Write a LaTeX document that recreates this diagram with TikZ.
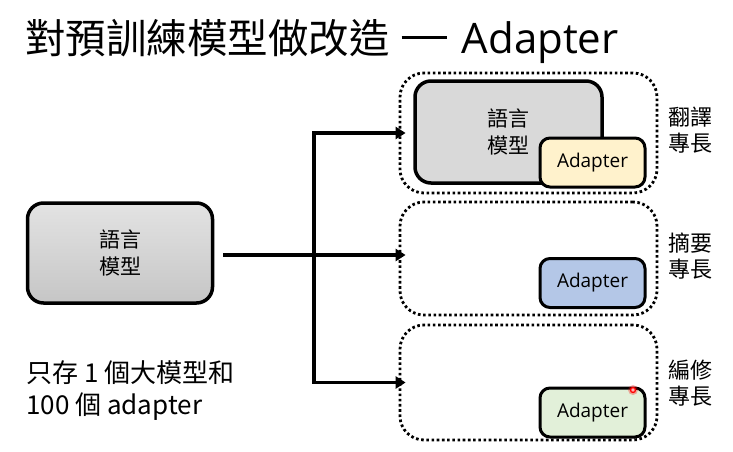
\documentclass[tikz,border=0pt]{standalone}
\usepackage{fontspec}
\setmainfont{Noto Sans CJK TC}
\newfontfamily\latin{Open Sans}
\usetikzlibrary{arrows.meta,positioning}
\definecolor{modelgray}{HTML}{D9D9D9}
\definecolor{adyellow}{HTML}{FFF2CC}
\definecolor{adblue}{HTML}{B4C7E7}
\definecolor{adgreen}{HTML}{E2F0D9}
\tikzset{
  model/.style={draw, line width=3.5pt, rounded corners=16pt, align=center, inner sep=0pt,
    font=\fontsize{21}{27}\selectfont},
  adapterbox/.style={draw, line width=3pt, rounded corners=10pt, inner sep=0pt,
    minimum width=105pt, minimum height=49pt, font=\latin\fontsize{19}{22}\selectfont},
  groupbox/.style={draw, line width=2.8pt, dash pattern=on 2.6pt off 2.6pt,
    rounded corners=24pt, inner sep=0pt, minimum width=257pt},
  skill/.style={align=center, font=\fontsize{22}{26}\selectfont},
  feed/.style={line width=3.2pt, line join=miter, shorten >=-7pt, shorten <=-7pt},
  tip/.tip={Triangle[length=10pt,width=12pt]}
}
\begin{document}
\begin{tikzpicture}[x=1pt, y=-1pt]
  \useasboundingbox (0,0) rectangle (733,452);
  \node[anchor=west, inner sep=0pt, font=\fontsize{40.5}{44}\selectfont] (title) at (25,41)
    {對預訓練模型做改造\hspace{12pt}\rule[14pt]{45pt}{2.8pt}\hspace{15pt}{\latin\fontsize{42}{44}\selectfont Adapter}};
  % the shared model
  \node[model, minimum width=185pt, minimum height=100pt, top color=gray!22, bottom color=gray!45] (base) at (120,253) {語言\\模型};
  \node[anchor=west, align=left, inner sep=0pt, font=\fontsize{26}{32}\selectfont] (note) at (26,391) {只存 1 個大模型和\\100 個 adapter};
  % three tasks
  \node[groupbox, minimum height=120pt] (group1) at (528.5,133) {};
  \node[groupbox, minimum height=113pt] (group2) at (528.5,258.5) {};
  \node[groupbox, minimum height=115pt] (group3) at (528.5,382.5) {};
  \node[model, fill=modelgray, minimum width=187pt, minimum height=102pt] (big) at (508.5,132) {語言\\模型};
  \node[adapterbox, fill=adyellow] (ad1) at (592.5,162.5) {Adapter};
  \node[adapterbox, fill=adblue] (ad2) at (592.5,283) {Adapter};
  \node[adapterbox, fill=adgreen] (ad3) at (592.5,412.5) {Adapter};
  \node[skill] (sk1) at (690,130) {翻譯\\專長};
  \node[skill] (sk2) at (690,256.5) {摘要\\專長};
  \node[skill] (sk3) at (690,383) {編修\\專長};
  \node[circle, inner sep=0pt, minimum size=10pt, fill=red, opacity=0.3] (glow) at (633,390) {};
  \node[circle, inner sep=0pt, minimum size=5pt, draw=red, line width=1.3pt, fill=red!30] (dot) at (glow) {};
  % connectors
  \coordinate (fork) at (314,0);
  \draw[line width=3.2pt, shorten >=-7pt, -tip] (base.east) ++(9,2) coordinate (out) -- (out -| group2.west);
  \draw[feed, tip-tip] (group1.west) -- (fork |- group1.west) -- (fork |- group3.west) -- (group3.west);
\end{tikzpicture}
\end{document}
